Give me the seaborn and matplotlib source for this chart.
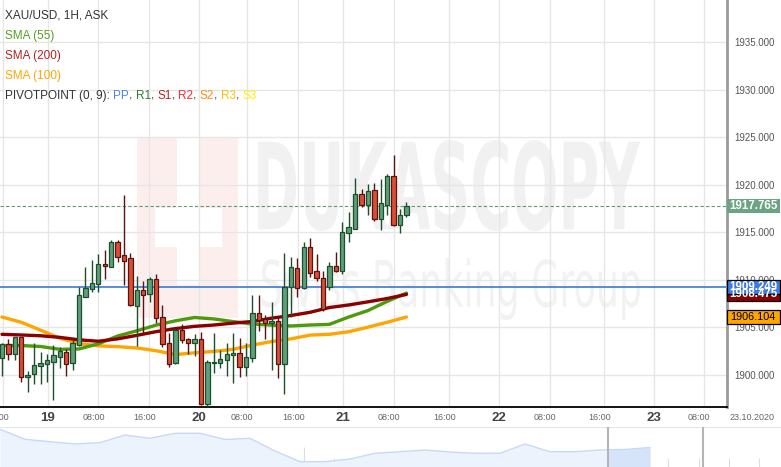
"""
XAU/USD 1H candles with SMA(55/100/200) and pivot point, Dukascopy style.
"""

import matplotlib

matplotlib.use("Agg")
import matplotlib.pyplot as plt
import matplotlib.transforms as mtransforms
import numpy as np
import pandas as pd
import seaborn as sns
from matplotlib.font_manager import FontProperties
from matplotlib.patches import PathPatch, Rectangle
from matplotlib.textpath import TextPath

# ─── Data ───
opens = [1901.75, 1903.23, 1902.18, 1903.96, 1899.75, 1900.07, 1900.91, 1901.12,
         1901.40, 1901.93, 1902.46, 1901.23, 1903.12, 1908.25, 1909.02, 1909.61,
         1911.68, 1911.40, 1914.00, 1912.60, 1912.28, 1907.30, 1908.95, 1908.49,
         1910.11, 1906.07, 1903.33, 1901.23, 1904.74, 1903.79, 1903.33, 1903.75,
         1896.91, 1901.23, 1901.23, 1901.54, 1902.07, 1902.28, 1900.81, 1901.75,
         1906.49, 1905.86, 1905.44, 1905.65, 1901.12, 1909.23, 1911.23, 1909.12,
         1913.44, 1910.91, 1910.25, 1909.23, 1911.44, 1910.98, 1914.91, 1915.40,
         1919.05, 1917.89, 1919.44, 1916.46, 1917.89, 1920.95, 1915.82, 1916.81]
highs = [1903.40, 1903.75, 1904.04, 1904.04, 1900.39, 1903.33, 1902.39, 1902.25,
         1903.16, 1902.91, 1902.74, 1903.68, 1909.30, 1911.33, 1912.11, 1912.74,
         1913.16, 1914.18, 1914.18, 1918.95, 1912.81, 1910.42, 1909.89, 1910.35,
         1910.60, 1907.37, 1904.46, 1904.81, 1905.37, 1903.86, 1904.32, 1904.49,
         1901.58, 1904.39, 1902.63, 1903.33, 1904.39, 1903.89, 1903.33, 1908.42,
         1908.42, 1906.35, 1907.65, 1906.14, 1912.81, 1912.39, 1912.28, 1914.00,
         1914.39, 1912.70, 1910.91, 1911.93, 1912.91, 1916.14, 1917.16, 1920.74,
         1919.61, 1920.11, 1920.18, 1920.63, 1921.16, 1923.16, 1917.44, 1918.18]
lows = [1899.93, 1901.58, 1901.58, 1899.30, 1898.25, 1899.05, 1899.09, 1899.30,
        1897.37, 1900.77, 1899.93, 1900.53, 1903.05, 1908.18, 1908.77, 1908.77,
        1910.11, 1911.33, 1911.86, 1909.47, 1907.26, 1903.09, 1904.39, 1907.72,
        1905.51, 1902.98, 1900.88, 1901.16, 1903.33, 1902.21, 1902.04, 1896.84,
        1896.67, 1900.18, 1900.70, 1899.93, 1899.12, 1899.82, 1899.93, 1901.40,
        1904.67, 1903.82, 1900.53, 1899.72, 1897.96, 1906.07, 1908.18, 1909.05,
        1910.28, 1909.93, 1906.74, 1908.95, 1910.84, 1910.60, 1913.96, 1915.33,
        1917.65, 1916.84, 1916.25, 1915.26, 1916.84, 1915.65, 1914.91, 1916.60]
closes = [1903.26, 1902.18, 1903.96, 1899.75, 1899.96, 1901.02, 1901.26, 1901.54,
          1902.11, 1902.49, 1901.19, 1903.33, 1908.39, 1909.12, 1909.65, 1911.65,
          1911.51, 1914.00, 1912.46, 1912.04, 1907.37, 1908.95, 1908.46, 1910.07,
          1905.96, 1903.23, 1901.12, 1904.74, 1903.65, 1903.33, 1903.79, 1896.95,
          1901.37, 1901.37, 1901.65, 1902.21, 1902.32, 1900.81, 1901.86, 1906.49,
          1905.79, 1905.44, 1905.65, 1901.12, 1909.30, 1911.33, 1909.12, 1913.44,
          1910.70, 1910.18, 1906.98, 1911.47, 1910.98, 1915.02, 1915.54, 1919.05,
          1917.93, 1919.37, 1916.46, 1918.11, 1920.95, 1915.82, 1916.81, 1917.77]

# moving averages, sampled every 3rd candle
sma_idx = list(range(0, 64, 3))
sma55 = [1903.10, 1903.10, 1903.00, 1902.70, 1902.74, 1903.28, 1904.10, 1904.65,
         1905.25, 1905.70, 1906.05, 1905.90, 1905.62, 1905.36, 1905.25, 1905.16,
         1905.26, 1905.33, 1906.10, 1906.78, 1907.75, 1908.62]
sma200 = [1904.28, 1904.21, 1904.13, 1903.96, 1903.70, 1903.55, 1903.80, 1904.17,
          1904.56, 1904.88, 1905.12, 1905.26, 1905.46, 1905.63, 1905.98, 1906.26,
          1906.60, 1907.10, 1907.37, 1907.70, 1908.05, 1908.48]
sma100 = [1906.10, 1905.55, 1904.72, 1903.87, 1903.30, 1903.07, 1902.98, 1902.85,
          1902.55, 1902.15, 1902.33, 1902.48, 1902.70, 1903.15, 1903.52, 1903.80,
          1904.20, 1904.28, 1904.55, 1905.03, 1905.55, 1906.10]

last_price = 1917.765
pivot_pp = 1909.249
sma200_last = 1908.475
sma100_last = 1906.104

# time axis (candle index units)
tick_pos = [0.1, 7.1, 15.0, 22.9, 30.7, 38.1, 46.1, 53.1, 61.0, 69.7, 77.4, 85.3,
            93.8, 101.6, 109.3]
tick_labels = ["16:00", "19", "08:00", "16:00", "20", "08:00", "16:00", "21",
               "08:00", "16:00", "22", "08:00", "16:00", "23", "08:00"]
end_date = "23.10.2020"
price_ticks = [1900, 1905, 1910, 1915, 1920, 1925, 1930, 1935]

# navigator overview (height above bottom, one point per 25 px)
nav_h = [37.7, 27.7, 25.3, 23.0, 24.3, 32.0, 28.7, 33.7, 33.7, 27.5, 28.7, 16.0,
         5.3, 5.3, 8.0, 13.7, 15.3, 17.0, 15.0, 13.7, 13.7, 23.0, 15.3, 15.3,
         17.0, 17.5, 19.5]

# ─── Style ───
GREEN_BODY, GREEN_EDGE = "#5f9f79", "#1d4f2c"
RED_BODY, RED_EDGE = "#d84f36", "#5a1410"
C55, C200, C100 = "#4f9a0c", "#8b0000", "#ffa500"
TXT = "#333333"

sns.set_theme(style="white")
plt.rcParams["font.family"] = ["Liberation Sans", "DejaVu Sans"]

W, H = 781, 467
fig = plt.figure(figsize=(W / 100, H / 100), dpi=100)
fig.patch.set_facecolor("white")

# background layer in pixel coords for the watermark
bg = fig.add_axes([0, 0, 1, 1], zorder=0)
bg.set_xlim(0, W)
bg.set_ylim(H, 0)
bg.axis("off")

bg.add_patch(Rectangle((137, 137), 101, 181, fc="#fdeeee", ec="none"))
bg.add_patch(Rectangle((177, 137), 22, 148, fc="white", ec="none"))
bg.add_patch(Rectangle((155, 208), 67, 39, fc="white", ec="none"))


def fit_text(s, x0, x1, y0, y1, weight, color):
    tp = TextPath((0, 0), s, size=100, prop=FontProperties(family="DejaVu Sans", weight=weight))
    bb = tp.get_extents()
    tr = (mtransforms.Affine2D().translate(-bb.x0, -bb.y0)
          .scale((x1 - x0) / bb.width, -(y1 - y0) / bb.height)
          .translate(x0, y1) + bg.transData)
    bg.add_patch(PathPatch(tp, transform=tr, fc=color, ec="none"))


fit_text("DUKASCOPY", 258, 640, 140, 231, "bold", "#f1f1f1")
fit_text("Swiss Banking Group", 262, 640, 258, 320, "normal", "#f2f2f2")

# ─── Main price axes ───
ax = fig.add_axes([0, 60 / H, 727 / W, 407 / H], zorder=1)
ax.set_facecolor("none")
ax.set_xlim(-0.31, 112.93)
ax.set_ylim(1896.63, 1939.47)

ax.set_xticks(tick_pos)
ax.set_yticks(price_ticks)
ax.grid(True, color="#e6e6e6", lw=1)
ax.tick_params(axis="x", length=0, labelbottom=False)
ax.yaxis.tick_right()
ax.tick_params(axis="y", length=0, pad=5, labelsize=7, labelcolor="#555555")
ax.set_yticklabels([f"{v:.3f}" for v in price_ticks])
for s in ["top", "left"]:
    ax.spines[s].set_visible(False)
ax.spines["right"].set_color("#9a9a9a")
ax.spines["right"].set_linewidth(2)
ax.spines["bottom"].set_color("black")
ax.spines["bottom"].set_linewidth(1.3)

ax.axhline(pivot_pp, color="#3c78d8", lw=1.2, zorder=2)
ax.axhline(last_price, color="#5f9a70", lw=0.8, ls=(0, (3, 2)), zorder=2)

sma_df = pd.DataFrame({"idx": sma_idx, "sma55": sma55, "sma200": sma200, "sma100": sma100})
for col, c in [("sma100", C100), ("sma55", C55), ("sma200", C200)]:
    sns.lineplot(data=sma_df, x="idx", y=col, color=c, lw=2.4, ax=ax, zorder=3)
ax.set_xlabel("")
ax.set_ylabel("")

df = pd.DataFrame({"open": opens, "high": highs, "low": lows, "close": closes})
df["i"] = np.arange(len(df))
up = df["close"] >= df["open"]
for mask, body, edge in [(up, GREEN_BODY, GREEN_EDGE), (~up, RED_BODY, RED_EDGE)]:
    d = df[mask]
    ax.vlines(d["i"], d["low"], d["high"], color=edge, lw=1, zorder=4)
    ax.bar(d["i"], (d["close"] - d["open"]).abs().clip(lower=0.12),
           bottom=d[["open", "close"]].min(axis=1), width=0.68,
           color=body, edgecolor=edge, lw=0.9, zorder=5)

# x labels
blend = mtransforms.blended_transform_factory(ax.transData, ax.transAxes)
for pos, lab in zip(tick_pos, tick_labels):
    is_day = ":" not in lab
    off = mtransforms.ScaledTranslation((0 if is_day else -4.5) / 100, -11 / 100, fig.dpi_scale_trans)
    ax.text(pos, 0, lab, transform=blend + off, ha="center", va="center",
            fontsize=9.5 if is_day else 6.5, fontweight="bold" if is_day else "normal",
            color="#444444" if is_day else "#666666", clip_on=False)
fig.text(752 / W, 1 - 418 / H, end_date, ha="center", va="center", fontsize=6.5, color="#666666")

# right-hand value boxes
side = mtransforms.blended_transform_factory(fig.transFigure, ax.transData)
for val, fc, ec, tc, bold in [(last_price, "#6aa482", "none", "white", True),
                              (sma200_last, "#8b0000", "black", "white", True),
                              (pivot_pp, "#3d7be0", "black", "white", True),
                              (sma100_last, "#ffa500", "black", "black", False)]:
    ax.add_patch(Rectangle((727 / W, val - 0.72), 53 / W, 1.44, transform=side,
                           fc=fc, ec=ec, lw=0.9, clip_on=False, zorder=6))
    ax.text(753 / W, val, f"{val:.3f}", transform=side, ha="center", va="center",
            fontsize=8.3 if bold else 7.8, fontweight="bold" if bold else "normal",
            color=tc, clip_on=False, zorder=7)

# legend block (top left)
legend_rows = [("XAU/USD, 1H, ASK", TXT, 15.5), ("SMA (55)", "#56a01e", 35.5),
               ("SMA (200)", "#b22222", 56), ("SMA (100)", "#ffa500", 76)]
for s, c, y in legend_rows:
    fig.text(5 / W, 1 - y / H, s, color=c, fontsize=8.5, va="center", ha="left", zorder=10)
prev = fig.text(5 / W, 1 - 96 / H, "PIVOTPOINT (0, 9):", color=TXT, fontsize=8.5,
                va="center", ha="left", zorder=10)
pieces = [("PP", "#4a86e8", 2.4), (",", TXT, 0), ("R1", "#2e7d32", 2.4), (",", TXT, 0),
          ("S1", "#b22222", 2.4), (",", TXT, 0), ("R2", "#ff2a2a", 2.4), (",", TXT, 0),
          ("S2", "#ff8c1a", 2.4), (",", TXT, 0), ("R3", "#ffc000", 2.4), (",", TXT, 0),
          ("S3", "#ffee00", 2.4)]
for s, c, gap in pieces:
    prev = ax.annotate(s, xy=(1, 0), xycoords=prev, xytext=(gap, 0), textcoords="offset points",
                       ha="left", va="bottom", color=c, fontsize=8.5, annotation_clip=False)

# ─── Navigator ───
nav = fig.add_axes([0, 0, 1, 40 / H], zorder=1)
nav.set_xlim(0, W / 25)
nav.set_ylim(0, 40)
nav.axis("off")
nav_x = np.arange(len(nav_h))
for k in range(1, 26):
    tall = k in (5, 10)
    nav.vlines(k * 1.215, 0, 20 if tall else 9, color="#dddddd", lw=0.8, zorder=0)
nav.fill_between(nav_x, 0, nav_h, color="#edf3fc", lw=0, zorder=1)
sel = nav.fill_between(nav_x, 0, nav_h, color="#d6e4fa", lw=0, zorder=1)
sel.set_clip_path(Rectangle((24.32, 0), 10, 40, transform=nav.transData))
sns.lineplot(x=nav_x, y=nav_h, color="#c6d9f6", lw=1, ax=nav, zorder=2)
nav.axhline(40, color="#e2e2e2", lw=1.2)
nav.vlines([24.32, 28.12], 0, 40, color="#b5b5b5", lw=1.5, zorder=3)

fig.savefig("out.png", dpi=100, facecolor="white")
